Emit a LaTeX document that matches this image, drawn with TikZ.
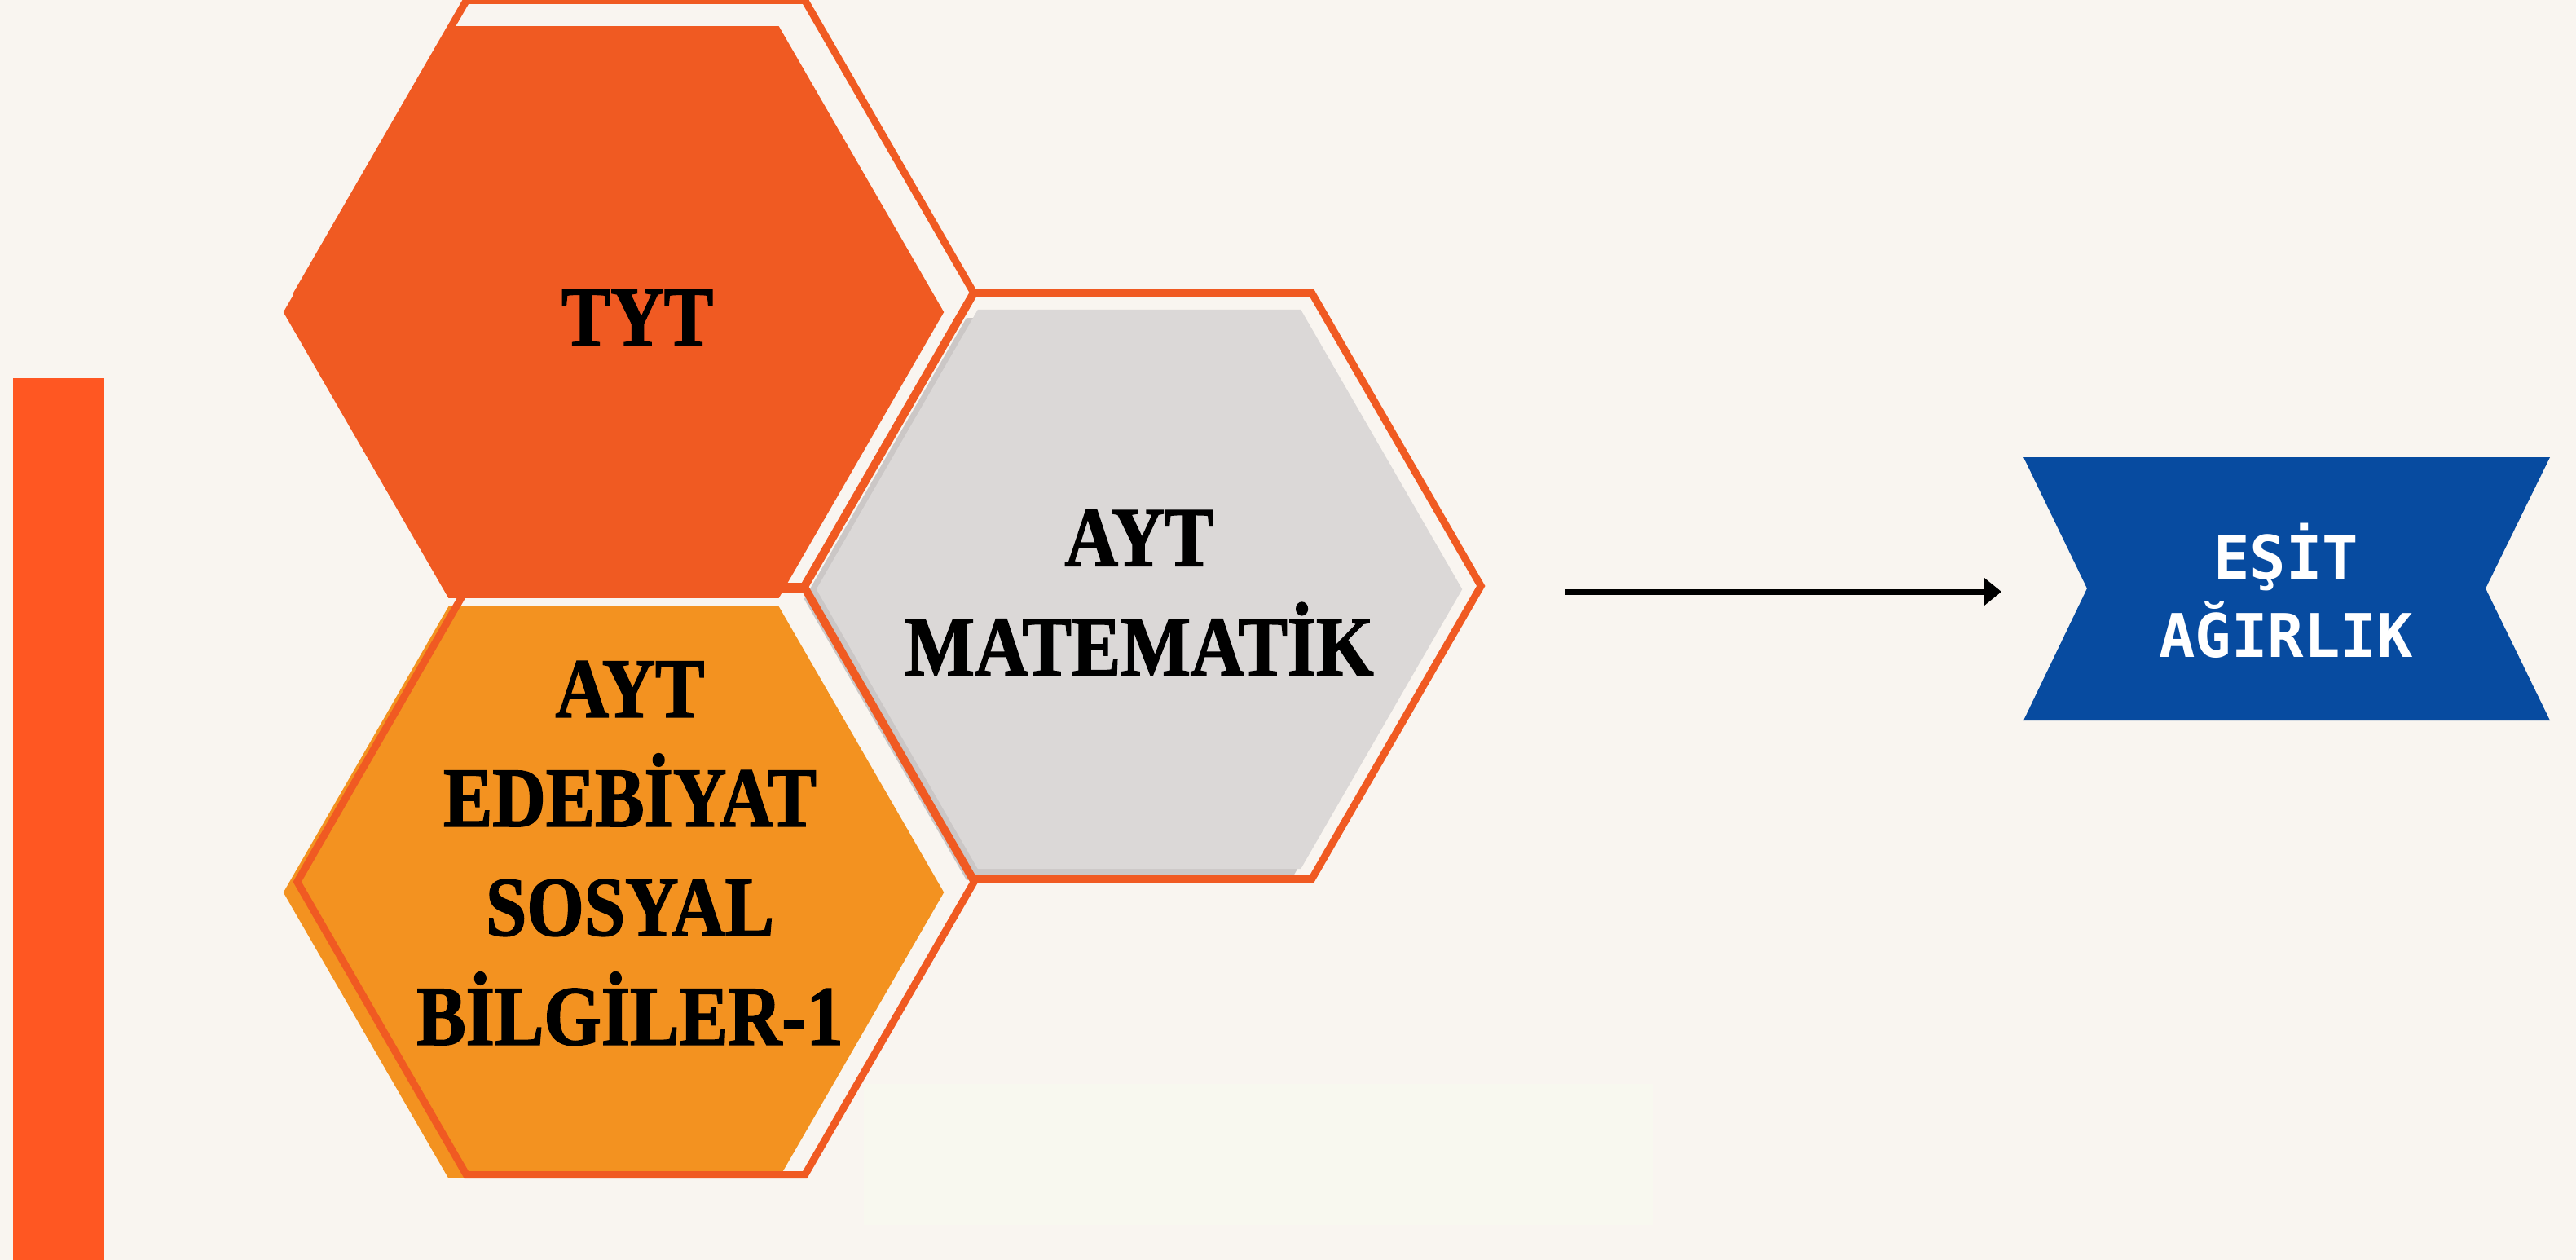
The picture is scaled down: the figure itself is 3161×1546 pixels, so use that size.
\documentclass[tikz,border=0pt]{standalone}
\usepackage{fontspec}
\usetikzlibrary{shapes.geometric,arrows.meta}

\newfontfamily\hexfont{Liberation Serif Bold}[FakeStretch=0.87, FakeBold=1.5]
\newfontfamily\bannerfont{DejaVu Sans Mono Bold}

\definecolor{bgcream}{HTML}{F9F5F0}
\definecolor{barorange}{HTML}{FF5722}
\definecolor{tytorange}{HTML}{F05A22}
\definecolor{edeborange}{HTML}{F39220}
\definecolor{hexgray}{HTML}{DBD8D7}
\definecolor{shadowgray}{HTML}{CBC7C6}
\definecolor{bannerblue}{HTML}{074BA0}
\definecolor{paleblock}{HTML}{F8F8EF}

\begin{document}
\begin{tikzpicture}[x=0.01cm, y=-0.01cm,
  hexfill/.style={regular polygon, regular polygon sides=6, inner sep=0pt, minimum size=8.1cm},
  hexline/.style={regular polygon, regular polygon sides=6, inner sep=0pt, minimum size=8.3cm,
    draw=tytorange, line width=0.09cm},
  hexlabel/.style={font=\hexfont\fontsize{29.6}{38.1}\selectfont, align=center, inner sep=0pt},
  bannerlabel/.style={font=\bannerfont\fontsize{21}{27.3}\selectfont, text=white, align=center, inner sep=0pt}]
  % Page: cream background, fixes the size too
  \fill[bgcream] (0,0) rectangle (3161,1546);
  \useasboundingbox (0,0) rectangle (3161,1546);
  % Orange bar on the left edge and the pale block under the hexagons
  \fill[barorange] (16,464) rectangle (128,1546);
  \fill[paleblock] (1060,1330) rectangle (2029,1503);
  % Honeycomb: fills first, the orange outlines over them
  \node[hexfill, fill=tytorange] (tyt) at (753,383) {};
  \node[hexfill, fill=edeborange] (edeb) at (753,1095) {};
  \node[hexfill, fill=shadowgray, minimum size=7.96cm] (matshadow) at (1385,735) {};
  \node[hexfill, fill=hexgray, minimum size=7.92cm] (mat) at (1398,723) {};
  \node[hexline] (tytline) at (780,360) {};
  \node[hexline] (matline) at (1402,719) {};
  \node[hexline] (edebline) at (780,1082) {};
  % Labels
  \node[hexlabel] (tytlabel) at (782,390) {TYT};
  \node[hexlabel] (matlabel) at (1398,727) {AYT\\MATEMATİK};
  \node[hexlabel] (edeblabel) at (773,1047) {AYT\\EDEBİYAT\\SOSYAL\\BİLGİLER-1};
  % Result banner, notched on both sides
  \fill[bannerblue] (2483,561) -- (3129,561) -- (3050,722) -- (3129,884)
    -- (2483,884) -- (2561,722) -- cycle;
  \node[bannerlabel] (esit) at (2805,725) {EŞİT\\AĞIRLIK};
  % Arrow pointing at the banner
  \coordinate (arrowtail) at (1921,726);
  \coordinate (arrowhead) at (2456,726);
  \draw[line width=0.07cm, -{Triangle[length=0.22cm,width=0.34cm]}] (arrowtail) -- (arrowhead);
\end{tikzpicture}
\end{document}
